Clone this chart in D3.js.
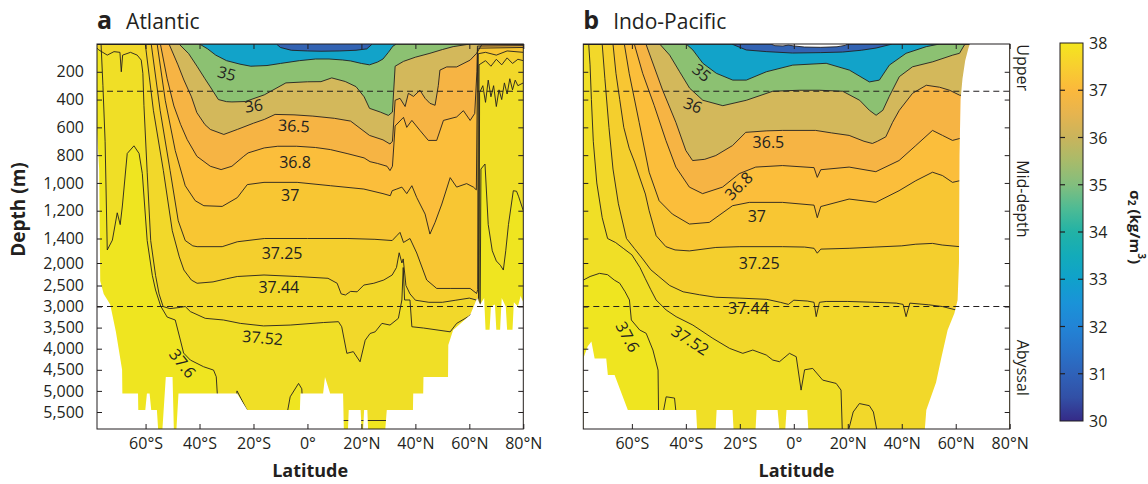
<!DOCTYPE html>
<html>
<head>
<meta charset="utf-8">
<script src="https://cdn.jsdelivr.net/npm/d3@7"></script>
<style>
  body { margin: 0; background: #fff; }
  svg text { font-family: "Open Sans", sans-serif; }
</style>
</head>
<body>
<svg id="chart" width="1148" height="484"></svg>
<script>
'use strict';

// ---- axes / legend values ----
const depthTicks = [200, 400, 600, 800, 1000, 1200, 1400, 2000, 2500, 3000, 3500, 4000, 4500, 5000, 5500];
const latTicks = [-60, -40, -20, 0, 20, 40, 60, 80];
const latDomain = [-78, 80];
const layerBounds = [0, 340, 3000, 5900];
const layerNames = ['Upper', 'Mid-depth', 'Abyssal'];

// contour levels (sigma2) and the fill of the band lying just above each level
const levels = [31, 33, 35, 36, 36.5, 36.8, 37, 37.25, 37.44, 37.52, 37.6];
const bandColors = ['#ffffff', '#3363b3', '#12a3c9', '#8cc172', '#d3b85b', '#f6b444',
  '#fbbe3b', '#f8c633', '#f4cf2d', '#f2d82a', '#f0df26', '#efe520'];

// colour bar
const cbTicks = [30, 31, 32, 33, 34, 35, 36, 37, 38];
const cbValues = [30, 30.5, 31, 31.5, 32, 32.5, 33, 33.5, 34, 34.5, 35, 35.5, 36, 36.5, 37, 37.5, 38];
const cbColors = ['#352a87', '#3250a6', '#2f62b9', '#2874ca', '#2284d6', '#1a93d8', '#10a1cb', '#13abba',
  '#22b2a6', '#4ebb94', '#82be7e', '#a8bb6a', '#c9b45c', '#e6b44f', '#fbb83c', '#f8cf2f', '#f4e61e'];

// ---- Atlantic: isopycnal depth (m) against latitude ----
const atl33 = [[-78,0],[-11.5,0],[-10,25],[-6,45],[0,50],[5,52],[12,50],[18,45],[22,35],[24,0],[80,0]];
const atl35 = [[-78,0],[-40,0],[-37,35],[-34,80],[-30,120],[-25,145],[-21,160],[-15,155],[-10,140],[-3,120],[3,108],[8,108],[13,115],[16,122],[20,140],[23,150],[26,130],[28,108],[30,60],[31.7,15],[33,0],[80,0]];
const atl36 = [[-78,0],[-47.6,0],[-44,70],[-40.8,164],[-38,250],[-36,309],[-33,400],[-30,415],[-28,417],[-23,414],[-16,366],[-8,280],[0,272],[5,271],[9,244],[14,270],[18,307],[21,380],[23,463],[27,490],[30,514],[31.5,490],[32.5,160],[35.6,125],[40,95],[45.4,67],[50,40],[54,19],[60.3,0],[80,0]];
const atl365 = [[-78,0],[-51.3,0],[-48,150],[-45.8,259],[-43,380],[-41,494],[-38,580],[-36,615],[-31,651],[-26,615],[-20,570],[-16,543],[-12,507],[-5,510],[2,519],[10,535],[16,555],[23,658],[28,690],[30.6,720],[31.5,700],[32.5,405],[34.3,391],[36.2,450],[37.4,355],[39.3,377],[41.7,333],[43.6,391],[45.4,427],[47.3,441],[48.5,300],[49.1,188],[51.6,165],[55.3,165],[60.3,116],[62.7,67],[64.6,5],[80,5]];
const atl368 = [[-78,0],[-54.5,0],[-52,250],[-49.5,446],[-47,580],[-44.6,687],[-41,808],[-36,880],[-32,904],[-28,880],[-23.6,808],[-22,784],[-16,748],[-11,736],[-4,736],[3,745],[8.5,760],[15,790],[21,820],[23.2,847],[26,860],[29.5,880],[30.6,911],[31.5,880],[32.5,590],[35.6,528],[36.8,600],[38.7,550],[41.7,622],[44.8,694],[47.9,694],[50.4,550],[55.3,525],[57.8,480],[60.3,550],[62,500],[62.8,200],[63,15],[80,12]];
const atl37 = [[-78,0],[-55.7,0],[-52.7,405],[-49,767],[-45.3,1020],[-41.6,1128],[-38.4,1164],[-31.6,1169],[-26,1106],[-22.3,1012],[-16.1,996],[-3.8,996],[8.5,1020],[20.9,1044],[28,1077],[30.7,1092],[31.4,1056],[33.1,1044],[35,1030],[36.8,1077],[38.7,1020],[40.5,1105],[43.6,1224],[45.4,1368],[47.3,1284],[49.8,1152],[52.9,962],[55.3,1030],[59,1005],[61.5,1030],[62.6,1050],[63.1,30],[80,25]];
const atl3725 = [[-78,0],[-57.9,0],[-54.6,477],[-50.9,911],[-47.9,1272],[-45.3,1450],[-42.5,1580],[-40.9,1600],[-31.6,1600],[-26,1480],[-16,1400],[0,1400],[15,1400],[25,1420],[31.4,1450],[33.1,1380],[34.3,1356],[35.6,1497],[38,1400],[40.5,1755],[44.2,2378],[47.9,2570],[52.9,2570],[60.3,2570],[62.7,2690],[63.1,2600],[63.3,70],[66,60],[70,80],[74,50],[80,60]];
const atl3744 = [[-78,0],[-60.1,0],[-57.1,477],[-53.4,911],[-50.1,1344],[-47.5,1850],[-45.8,2156],[-43,2380],[-40.9,2450],[-35,2420],[-30,2350],[-26,2300],[-16.1,2267],[-3.8,2300],[7.6,2340],[11,2450],[12.5,2700],[14.1,2726],[16,2640],[18.4,2650],[20.9,2490],[24.6,2450],[28.3,2378],[31.4,2267],[33,2100],[34,1750],[35,2000],[35.5,1900],[36.5,2500],[38,2700],[40,2850],[45,2900],[50,2900],[55,2850],[60,2800],[62.8,2850],[63.4,2800],[63.6,150],[66,120],[68,160],[70,110],[72,150],[74,100],[76,140],[78,110],[80,120]];
const atl3752 = [[-78,30],[-77.3,43],[-74.2,80],[-71.7,55],[-69.5,60],[-69,200],[-68.5,80],[-65.6,60],[-63.1,80],[-61.6,116],[-61,211],[-60.6,444],[-59.4,923],[-58.1,1450],[-56.3,2274],[-55,2700],[-53.5,3000],[-51,3050],[-47,3020],[-45.3,3000],[-43.4,3120],[-37.9,3280],[-31.1,3320],[-24.9,3400],[-16.3,3460],[-6.4,3440],[5.9,3380],[11.5,3360],[12.7,3480],[14.6,4110],[17,4070],[19.5,4310],[21.4,3800],[23.2,3640],[25.1,3600],[27.6,3400],[30.6,3440],[33.7,3280],[35,2845],[35.5,2100],[36,2845],[38,2845],[38.7,3480],[43,3510],[52.9,3600],[55.3,3400],[59.6,3240],[62,3100],[63.6,3000],[63.8,350],[65,300],[66,420],[67,260],[68,380],[69,300],[70,450],[71,330],[72,400],[73,280],[74,360],[75,250],[76,330],[77,260],[78,300],[80,280]];
const atl376 = [[-78,0],[-76.5,0],[-75.8,300],[-75,700],[-74.2,1682],[-72.3,1440],[-70.5,1215],[-69.4,1300],[-68.6,1166],[-66.8,788],[-64.3,733],[-62.4,788],[-61.2,933],[-59.4,1450],[-57.5,2274],[-56.3,2607],[-54.4,2990],[-52,3250],[-49,3320],[-47.1,3795],[-45.9,4103],[-43.4,4269],[-38.5,4427],[-34.8,4507],[-33.8,4665],[-33.2,5300],[-26.6,5300],[-26.1,5000],[-22.4,5455],[-20,5700],[-8,5700],[-6.4,5140],[-3.3,4823],[-2.1,4950],[-1.5,5700],[63.8,5700],[64.3,900],[65.8,864],[67,1300],[68.5,1700],[70,1950],[71.5,2050],[72.6,2156],[73.5,1700],[74.5,1300],[76.3,1056],[77.5,1060],[78.3,1100],[80,1200]];
const atlBottom = [[-78,620],[-77.2,900],[-76.8,2400],[-75.5,2700],[-73.1,2950],[-71,3600],[-68.7,4500],[-68.6,5060],[-62.8,5060],[-62.7,5455],[-60.1,5455],[-59.5,5060],[-58.5,5060],[-57.9,5455],[-55.8,5455],[-55.3,5950],[-53.8,5950],[-52.5,4670],[-50,4670],[-49.5,5950],[-48.6,5950],[-47.8,5060],[-26.1,5060],[-22.3,5455],[-2.8,5455],[-2.6,5060],[5.8,5060],[6.5,4670],[8.4,5060],[13.2,5060],[13.5,5950],[15,5950],[15.3,5455],[19.7,5455],[20.1,5950],[20.6,5950],[21,5455],[22.2,5455],[22.5,5950],[28.8,5950],[29.4,5455],[39.1,5455],[39.2,5060],[42.9,5060],[43,4670],[52.1,4670],[52.2,3913],[54,3557],[60.3,3201],[62.9,2800],[64,2950],[65.5,2800],[66,3550],[67.5,3550],[68,3000],[69.5,2950],[70,3550],[71.4,3550],[72,2800],[73.5,3000],[74,3550],[76,3550],[76.5,2900],[78,3000],[79,2750],[80,2900]];
const atlLabels = [['35',-29.9,211,15],['36',-19.9,443,-8],['36.5',-5,588,3],['36.8',-4.6,847,0],['37',-6.4,1085,0],['37.25',-9.4,1762,0],['37.44',-10.6,2529,0],['37.52',-16.6,3735,5],['37.6',-46.2,4346,52]];

// ---- Indo-Pacific ----
const ip31 = [[-78,0],[-8.5,0],[-7,12],[-4,14],[-2,8],[0,14],[4,22],[10,24],[16,20],[19,10],[20,0],[80,0]];
const ip33 = [[-78,0],[-23,0],[-17.6,43],[-10,55],[-0.5,65],[10,62],[18,58],[25,45],[30.5,29],[36.5,0],[80,0]];
const ip35 = [[-78,0],[-39.9,0],[-37.4,43],[-33.7,139],[-28.7,211],[-22.6,260],[-17.6,260],[-10.2,200],[-0.4,152],[12,139],[20.6,188],[28,273],[31.7,260],[35.4,152],[41.6,67],[49.1,19],[54,0],[80,0]];
const ip36 = [[-78,0],[-49.7,0],[-46,80],[-42.3,200],[-38.6,318],[-33.7,405],[-26.3,444],[-17.6,405],[-7.8,340],[2.1,333],[9.5,333],[18.1,340],[24.4,405],[28,477],[30.5,513],[33,477],[35.4,376],[39.1,235],[44,164],[51.5,128],[58.9,80],[61.4,67],[63.2,7],[64,0],[80,0]];
const ip365 = [[-78,0],[-54.8,0],[-48.6,333],[-43.7,564],[-40,767],[-37.5,839],[-33,830],[-28.9,803],[-22.7,731],[-17.8,636],[-10,625],[-4.2,622],[8.1,622],[14,640],[20.5,658],[26,700],[29.1,716],[31,700],[34.1,668],[36.6,564],[39.1,477],[44,355],[49.1,297],[54,311],[57.7,333],[61.5,369],[80,369]];
const ip368 = [[-78,0],[-59.1,0],[-56,211],[-51.7,444],[-47.4,694],[-43.7,886],[-38.7,1030],[-33.8,1077],[-26.4,1030],[-20.2,933],[-14.1,886],[-4.2,875],[7.5,890],[8.7,960],[10,905],[20.5,886],[30.4,919],[39,839],[45.2,731],[51.4,622],[55.1,658],[58.8,694],[61.5,680],[80,680]];
const ip37 = [[-78,0],[-62.8,0],[-61,211],[-57.3,564],[-53.6,923],[-49.9,1128],[-45,1224],[-38.7,1296],[-31.3,1284],[-22.7,1164],[-16.5,1140],[-4.2,1140],[7.5,1160],[8.7,1250],[10,1170],[20.5,1116],[30.4,1140],[39,1056],[45.2,984],[51.4,923],[55.1,947],[58.8,996],[61.5,984],[80,984]];
const ip3725 = [[-78,0],[-67,0],[-65.9,211],[-64.5,400],[-63,600],[-61,750],[-59,850],[-57.3,950],[-55,1080],[-53.6,1200],[-51,1380],[-47.4,1600],[-44,1680],[-38.7,1704],[-28.9,1620],[-20,1600],[-4.2,1600],[4,1610],[7.5,1640],[8.7,1760],[10,1660],[20.5,1640],[30,1610],[40,1580],[45.2,1540],[51.4,1520],[55,1560],[61.5,1600],[80,1600]];
const ip3744 = [[-78,0],[-71,0],[-70,250],[-68.5,600],[-67,900],[-65,1150],[-62,1400],[-59,1650],[-56,1900],[-53,2150],[-50,2300],[-46,2500],[-41,2650],[-35,2720],[-28.9,2780],[-20,2800],[-10,2830],[-5,2900],[-2,2950],[0,2850],[5,2870],[7.5,2900],[8.3,3240],[9.5,2900],[12,2880],[20,2880],[30,2900],[38,2920],[40.5,2950],[41.6,3240],[43,2920],[50,2960],[55,3000],[60,3080],[80,3080]];
const ip3752 = [[-78,0],[-76,0],[-75.5,150],[-75,400],[-74.3,700],[-73,1000],[-71,1250],[-69,1400],[-66,1500],[-63,1650],[-60,1800],[-57,2100],[-55,2350],[-53,2600],[-51,2845],[-47.3,3083],[-43.6,3241],[-37.4,3440],[-30,3755],[-23.8,3992],[-18.9,4110],[-15.2,4032],[-10.2,4150],[-7.8,4269],[-5.3,4308],[-1.6,4110],[0.9,4190],[2.7,4981],[4,4500],[7,4467],[10.7,4744],[15.7,4823],[17.5,4981],[18,6000],[80,6000]];
const ip376 = [[-78,2380],[-75.5,2300],[-72,2230],[-69,2260],[-66.5,2380],[-64.5,2450],[-62.5,2650],[-60.9,2845],[-60.2,3320],[-57.1,3557],[-54.7,3636],[-52.2,4032],[-50.3,4507],[-50.1,5600],[-48.5,5550],[-47.3,5140],[-44.2,5170],[-43.5,5600],[-40,6000],[20,6000],[22,5500],[24.3,5300],[28,5350],[29.5,5500],[31,6000],[80,6000]];
const ipBottom = [[-78,4230],[-76.4,3950],[-75,3830],[-73.8,4230],[-69.5,4230],[-68.9,4625],[-66.4,4625],[-61.5,5455],[-36.2,5455],[-35.8,5950],[-29,5950],[-28.6,5455],[-22.7,5455],[-22.3,5950],[-14.2,5950],[-13.8,5455],[-6,5455],[-5.3,5950],[-3.2,5950],[-2.7,5455],[5,5455],[5.4,5950],[48.5,5950],[49.1,5455],[52.7,4800],[54.6,4230],[57,3557],[59.5,3160],[60.7,2845],[61.2,2000],[61.4,800],[61.8,400],[62.5,250],[63.5,120],[64.7,30],[65.2,0],[80,0]];
const ipLabels = [['35',-34.1,205,40],['36',-37.4,439,22],['36.5',-9.4,703,0],['36.8',-20.5,1020,-45],['37',-13.7,1236,0],['37.25',-12.8,1988,0],['37.44',-16.8,3036,0],['37.52',-38.3,3794,33],['37.6',-61.5,3716,62]];

const panels = [
  { id: 'a', title: 'Atlantic', x0: 97, x1: 523.3, leftLabels: true,
    contours: [null, atl33, atl35, atl36, atl365, atl368, atl37, atl3725, atl3744, atl3752, atl376],
    bottom: atlBottom, labels: atlLabels },
  { id: 'b', title: 'Indo-Pacific', x0: 583.3, x1: 1009.7, leftLabels: false,
    contours: [ip31, ip33, ip35, ip36, ip365, ip368, ip37, ip3725, ip3744, ip3752, ip376],
    bottom: ipBottom, labels: ipLabels }
];

const ink = '#231f20';
const svg = d3.select('#chart');

// depth axis is piecewise linear (stretched upper ocean)
const y = d3.scaleLinear()
  .domain([0, 1400, 2000, 2500, 3000, 5500, 5900])
  .range([44, 238.5, 263, 285.5, 306.5, 412, 429]);

const latFormat = d => d === 0 ? '0°' : Math.abs(d) + '°' + (d < 0 ? 'S' : 'N');

const styleAxis = g => {
  g.select('.domain').remove();
  g.attr('color', ink).attr('font-size', 16).attr('font-family', '"Open Sans", sans-serif');
  g.selectAll('line').attr('stroke-width', 1);
};

panels.forEach(p => {
  const x = d3.scaleLinear().domain(latDomain).range([p.x0, p.x1]);
  const g = svg.append('g');

  g.append('clipPath').attr('id', 'clip-' + p.id)
    .append('rect')
      .attr('x', p.x0).attr('y', y(0))
      .attr('width', p.x1 - p.x0).attr('height', y(5900) - y(0));

  const plot = g.append('g').attr('clip-path', `url(#clip-${p.id})`);

  // densest band everywhere first
  plot.append('rect')
    .attr('x', p.x0).attr('y', y(0))
    .attr('width', p.x1 - p.x0).attr('height', y(5900) - y(0))
    .attr('fill', bandColors[levels.length]);

  // each isopycnal: paint the water lighter than it, deepest first
  const fillArea = d3.area()
    .x(d => x(d[0]))
    .y0(y(0))
    .y1(d => y(d[1]));

  for (let i = levels.length - 1; i >= 0; i--) {
    const c = p.contours[i];
    if (!c) continue;
    plot.append('path').datum(c)
      .attr('d', fillArea)
      .attr('fill', bandColors[i]);
  }

  const contourLine = d3.line()
    .x(d => x(d[0]))
    .y(d => y(d[1]));

  p.contours.forEach(c => {
    if (!c) return;
    plot.append('path').datum(c)
      .attr('d', contourLine)
      .attr('fill', 'none')
      .attr('stroke', ink)
      .attr('stroke-width', 0.9)
      .attr('stroke-linejoin', 'round');
  });

  // sea floor / no data
  plot.append('path').datum(p.bottom)
    .attr('d', d3.area().x(d => x(d[0])).y0(d => y(d[1])).y1(y(6200)))
    .attr('fill', '#fff');

  // layer boundaries
  [layerBounds[1], layerBounds[2]].forEach(d => {
    g.append('line')
      .attr('x1', p.x0).attr('x2', p.x1)
      .attr('y1', y(d)).attr('y2', y(d))
      .attr('stroke', ink)
      .attr('stroke-width', 1.2)
      .attr('stroke-dasharray', '6,4');
  });

  // contour labels
  g.selectAll('text.clabel')
    .data(p.labels)
    .join('text')
      .attr('class', 'clabel')
      .attr('transform', d => `translate(${x(d[1])},${y(d[2])}) rotate(${d[3]})`)
      .attr('text-anchor', 'middle')
      .attr('dominant-baseline', 'central')
      .attr('font-size', 16)
      .attr('fill', ink)
      .text(d => d[0]);

  // axes with inward ticks
  g.append('g')
    .attr('transform', `translate(${p.x0},0)`)
    .call(d3.axisLeft(y).tickValues(depthTicks).tickSize(-5).tickPadding(13)
      .tickFormat(p.leftLabels ? d3.format(',') : () => ''))
    .call(styleAxis);

  g.append('g')
    .attr('transform', `translate(${p.x1},0)`)
    .call(d3.axisRight(y).tickValues(depthTicks).tickSize(-5).tickFormat(() => ''))
    .call(styleAxis);

  g.append('g')
    .attr('transform', `translate(0,${y(5900)})`)
    .call(d3.axisBottom(x).tickValues(latTicks).tickSize(-5).tickPadding(9).tickFormat(latFormat))
    .call(styleAxis);

  g.append('g')
    .attr('transform', `translate(0,${y(0)})`)
    .call(d3.axisTop(x).tickValues(latTicks).tickSize(-5).tickFormat(() => ''))
    .call(styleAxis);

  g.append('rect')
    .attr('x', p.x0).attr('y', y(0))
    .attr('width', p.x1 - p.x0).attr('height', y(5900) - y(0))
    .attr('fill', 'none')
    .attr('stroke', ink)
    .attr('stroke-width', 1);

  // panel title
  const letter = g.append('text')
    .attr('x', p.x0).attr('y', 29)
    .attr('font-size', 25).attr('font-weight', 700).attr('fill', ink)
    .text(p.id);
  g.append('text')
    .attr('x', p.x0 + letter.node().getComputedTextLength() + 14).attr('y', 29)
    .attr('font-size', 21).attr('fill', ink)
    .text(p.title);

  g.append('text')
    .attr('x', (p.x0 + p.x1) / 2).attr('y', 477)
    .attr('text-anchor', 'middle')
    .attr('font-size', 18).attr('font-weight', 700).attr('fill', ink)
    .text('Latitude');
});

// depth title
svg.append('text')
  .attr('transform', `translate(18,${(y(0) + y(5900)) / 2 - 27}) rotate(-90)`)
  .attr('text-anchor', 'middle')
  .attr('dominant-baseline', 'central')
  .attr('font-size', 19).attr('font-weight', 700).attr('fill', ink)
  .text('Depth (m)');

// layer names on the right of panel b
layerNames.forEach((name, i) => {
  const cy = (y(layerBounds[i]) + y(layerBounds[i + 1])) / 2;
  svg.append('text')
    .attr('transform', `translate(1023,${cy}) rotate(90)`)
    .attr('text-anchor', 'middle')
    .attr('dominant-baseline', 'central')
    .attr('font-size', 16).attr('fill', ink)
    .text(name);
});

// colour bar
const cb = d3.scaleLinear().domain([30, 38]).range([421, 43]);
const cbX = 1060, cbW = 23;
const grad = svg.append('defs').append('linearGradient')
  .attr('id', 'cbgrad')
  .attr('x1', 0).attr('y1', 1).attr('x2', 0).attr('y2', 0);
grad.selectAll('stop')
  .data(cbValues)
  .join('stop')
    .attr('offset', d => (d - 30) / 8)
    .attr('stop-color', (d, i) => cbColors[i]);

svg.append('rect')
  .attr('x', cbX).attr('y', cb(38))
  .attr('width', cbW).attr('height', cb(30) - cb(38))
  .attr('fill', 'url(#cbgrad)')
  .attr('stroke', ink).attr('stroke-width', 1);

const innerTicks = cbTicks.slice(1, -1);
svg.selectAll('line.cbl')
  .data(innerTicks)
  .join('line')
    .attr('class', 'cbl')
    .attr('x1', cbX).attr('x2', cbX + 5)
    .attr('y1', d => cb(d)).attr('y2', d => cb(d))
    .attr('stroke', ink).attr('stroke-width', 1.2);
svg.selectAll('line.cbr')
  .data(innerTicks)
  .join('line')
    .attr('class', 'cbr')
    .attr('x1', cbX + cbW - 5).attr('x2', cbX + cbW)
    .attr('y1', d => cb(d)).attr('y2', d => cb(d))
    .attr('stroke', ink).attr('stroke-width', 1.2);

svg.selectAll('text.cbt')
  .data(cbTicks)
  .join('text')
    .attr('class', 'cbt')
    .attr('x', cbX + cbW + 6)
    .attr('y', d => cb(d))
    .attr('dominant-baseline', 'central')
    .attr('font-size', 16).attr('fill', ink)
    .text(d => d);

const unit = svg.append('text')
  .attr('transform', `translate(1136,${(cb(30) + cb(38)) / 2 - 5}) rotate(90)`)
  .attr('text-anchor', 'middle')
  .attr('dominant-baseline', 'central')
  .attr('font-size', 15).attr('font-weight', 700).attr('fill', ink);
unit.append('tspan').text('σ');
unit.append('tspan').attr('font-size', 10).attr('dy', 4).text('2');
unit.append('tspan').attr('dy', -4).text(' (kg/m');
unit.append('tspan').attr('font-size', 10).attr('dy', -6).text('3');
unit.append('tspan').attr('dy', 6).text(')');
</script>
</body>
</html>
